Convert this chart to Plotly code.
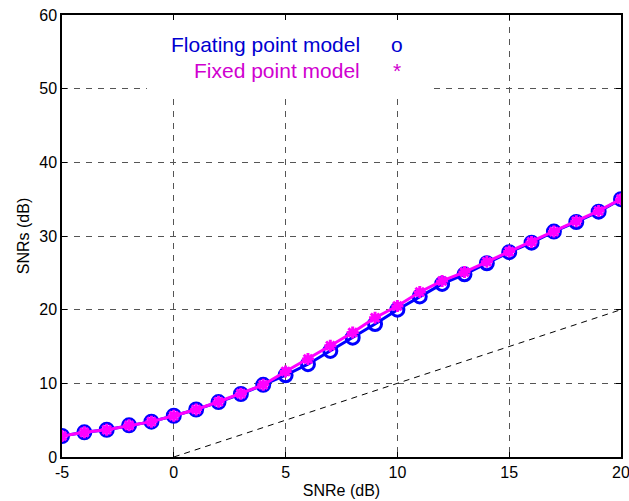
import plotly.graph_objects as go

snre = [-5, -4, -3, -2, -1, 0, 1, 2, 3, 4, 5, 6, 7, 8, 9, 10, 11, 12, 13, 14, 15, 16, 17, 18, 19, 20]
snrs_float = [2.85, 3.35, 3.7, 4.3, 4.8, 5.6, 6.45, 7.45, 8.55, 9.8, 11.1, 12.6, 14.4, 16.2, 18.05, 20.0,
              21.8, 23.5, 24.8, 26.3, 27.8, 29.1, 30.6, 31.9, 33.3, 35.0]
snrs_fixed = [2.85, 3.35, 3.7, 4.3, 4.8, 5.6, 6.45, 7.5, 8.6, 9.8, 11.6, 13.3, 15.1, 16.9, 18.9, 20.5,
              22.4, 23.9, 25.1, 26.5, 27.9, 29.2, 30.6, 32.0, 33.4, 35.0]
ref_x = [0, 20]
ref_y = [0, 20]
x_ticks = [-5, 0, 5, 10, 15, 20]
y_ticks = [0, 10, 20, 30, 40, 50, 60]

FONT = "Liberation Sans, Arial, sans-serif"

fig = go.Figure()
fig.add_trace(go.Scatter(x=ref_x, y=ref_y, mode="lines",
                         line=dict(color="black", width=1, dash="6px,5px"), showlegend=False))
fig.add_trace(go.Scatter(x=snre, y=snrs_float, mode="lines+markers",
                         line=dict(color="#0000FF", width=3),
                         marker=dict(symbol="circle-open", size=13, color="#0000FF",
                                     line=dict(width=3, color="#0000FF")),
                         showlegend=False))
fig.add_trace(go.Scatter(x=snre, y=snrs_fixed, mode="lines+markers",
                         line=dict(color="#FF00FF", width=3),
                         marker=dict(symbol="asterisk-open", size=10, color="#FF00FF",
                                     line=dict(width=3, color="#FF00FF")),
                         showlegend=False))

# white box behind legend text (hides grid)
fig.add_shape(type="rect", xref="x", yref="y", x0=-1.2, x1=11.55, y0=48.9, y1=59.8,
              fillcolor="white", line=dict(width=0), layer="between")

def px_x(p):
    return (p - 62) / 559.0

def px_y(p):
    return (457 - p) / 442.0

fig.add_annotation(text="Floating point model", xref="paper", yref="paper",
                   x=px_x(362), y=px_y(44), xanchor="right", yanchor="middle", showarrow=False,
                   font=dict(family=FONT, size=21, color="#0000D0"))
fig.add_annotation(text="o", xref="paper", yref="paper",
                   x=px_x(397), y=px_y(44), xanchor="center", yanchor="middle", showarrow=False,
                   font=dict(family=FONT, size=21, color="#0000D0"))
fig.add_annotation(text="Fixed point model", xref="paper", yref="paper",
                   x=px_x(362), y=px_y(70), xanchor="right", yanchor="middle", showarrow=False,
                   font=dict(family=FONT, size=21, color="#D000D0"))
fig.add_annotation(text="*", xref="paper", yref="paper",
                   x=px_x(397), y=px_y(70), xanchor="center", yanchor="middle", showarrow=False,
                   font=dict(family=FONT, size=21, color="#D000D0"))

axis_common = dict(showline=True, linecolor="black", linewidth=1.5, mirror="ticks",
                   ticks="inside", ticklen=5, tickcolor="black", tickwidth=1,
                   showgrid=True, gridcolor="#555555", gridwidth=1, griddash="6px,6px",
                   zeroline=False, automargin=False, ticklabeloverflow="allow",
                   tickfont=dict(family=FONT, size=16, color="black"))

fig.update_xaxes(range=[-5, 20], tickvals=x_ticks, ticktext=[str(v) for v in x_ticks],
                 title=dict(text="SNRe (dB)", font=dict(family=FONT, size=16, color="black"), standoff=5),
                 **axis_common)
fig.update_yaxes(range=[0, 60], tickvals=y_ticks, ticktext=[str(v) for v in y_ticks],
                 title=dict(text="SNRs (dB)", font=dict(family=FONT, size=16, color="black"), standoff=6),
                 **axis_common)

fig.update_layout(width=629, height=501, margin=dict(l=62, r=8, t=15, b=44),
                  plot_bgcolor="white", paper_bgcolor="white", showlegend=False)

fig.write_html("out.html")
